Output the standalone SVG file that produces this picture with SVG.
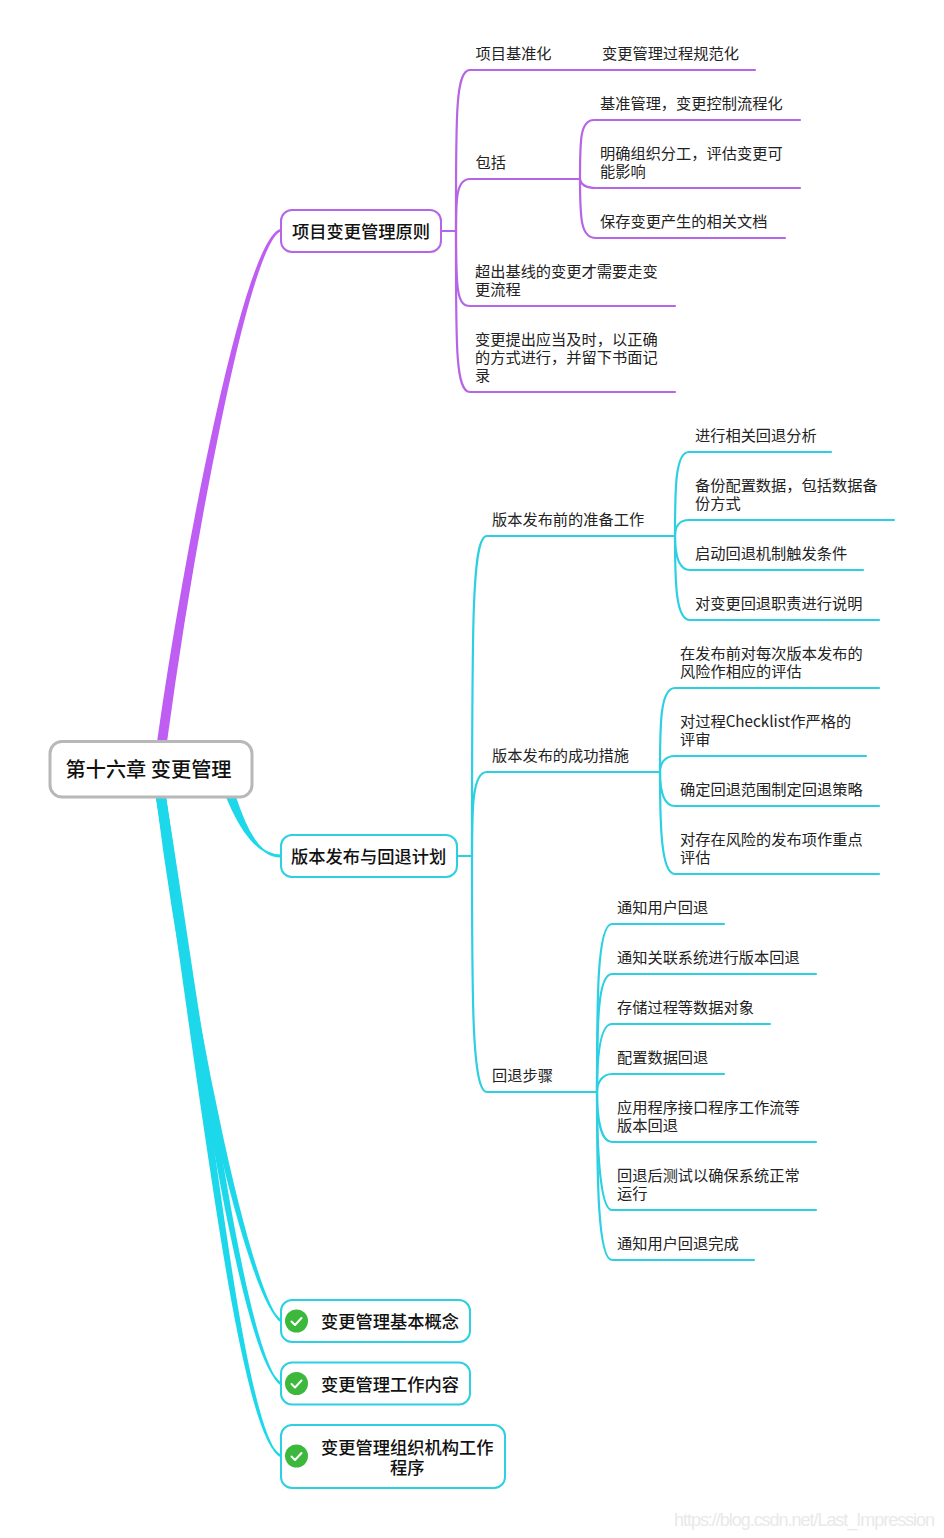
<svg xmlns="http://www.w3.org/2000/svg" width="944" height="1538" viewBox="0 0 944 1538">
<style>
text{font-family:"Noto Sans CJK SC","Liberation Sans",sans-serif;fill:#222}
.t{font-size:15.22px}
.n{font-size:17.25px;font-weight:500;fill:#111}
.r{font-size:20.2px;font-weight:500;fill:#111}
.p,.c{fill:none;stroke-width:2.2;stroke-linecap:round}
.p{stroke:#b565e6}
.c{stroke:#2dd0e2}
.tp{fill:#bf5ef2;stroke:#bf5ef2;stroke-width:1.6;stroke-linejoin:round}
.tc{fill:#1dd8ea;stroke:#1dd8ea;stroke-width:2;stroke-linejoin:round}
.box{fill:#fff;stroke-width:2}
.ok{fill:#3cb83c}
.tick{fill:none;stroke:#fff;stroke-width:2;stroke-linecap:round;stroke-linejoin:round}
</style>
<rect width="944" height="1538" fill="#fff"/>
<g id="connectors">
<path class="tp" d="M157.800,742 C183.200,560 244.500,239.500 281,229.500 L281,230.500 C247.500,240.500 190.800,560 166.200,742 Z"/>
<path class="tc" d="M227,797 C241,830 257,855 281,855.500 L281,856.500 C259,857 246,830 235,797 Z"/>
<path class="tc" d="M157,797 C186.500,1030 248.500,1300 281,1320.500 L281,1321.500 C251.500,1301 193.500,1030 165,797 Z"/>
<path class="tc" d="M157,797 C196.500,1040 241.500,1360 281,1383.500 L281,1384.500 C244.500,1361 203.500,1040 165,797 Z"/>
<path class="tc" d="M157,797 C196.500,1050 238.500,1440 281,1455.500 L281,1456.500 C241.500,1441 203.500,1050 165,797 Z"/>
<path class="p" d="M441,231 H456"/>
<path class="p" d="M456,231 C456,120 455,70 470,70 H755"/>
<path class="p" d="M456,231 C456,200 456,179 470,179 H580"/>
<path class="p" d="M456,231 C456,290 457,306 470,306 H675"/>
<path class="p" d="M456,231 C456,340 455,392 470,392 H675"/>
<path class="p" d="M580,179 C580,140 580,120 594,120 H800"/>
<path class="p" d="M580,179 C581,185 586,188 596,188 H800"/>
<path class="p" d="M580,179 C580,220 581,238 596,238 H785"/>
<path class="c" d="M457,856 H472"/>
<path class="c" d="M472,856 C472,620 472,536 487,536 H675"/>
<path class="c" d="M472,856 C472,810 472,772 487,772 H660"/>
<path class="c" d="M472,856 C472,1000 472,1092 487,1092 H597"/>
<path class="c" d="M675,536 C675,490 675,452 689,452 H831"/>
<path class="c" d="M675,536 C675,527 679,520 689,520 H894"/>
<path class="c" d="M675,536 C675,553 678,570 690,570 H863"/>
<path class="c" d="M675,536 C675,585 676,620 690,620 H879"/>
<path class="c" d="M660,772 C660,725 660,688 675,688 H879"/>
<path class="c" d="M660,772 C660,763 665,756 675,756 H866"/>
<path class="c" d="M660,772 C660,790 663,806 675,806 H879"/>
<path class="c" d="M660,772 C660,825 661,874 675,874 H879"/>
<path class="c" d="M597,1092 C597,1000 597,924 612,924 H724"/>
<path class="c" d="M597,1092 C597,1020 598,974 612,974 H816"/>
<path class="c" d="M597,1092 C597,1055 600,1024 612,1024 H770"/>
<path class="c" d="M597,1092 C597,1083 602,1074 612,1074 H724"/>
<path class="c" d="M597,1092 C597,1115 600,1142 612,1142 H816"/>
<path class="c" d="M597,1092 C597,1150 600,1210 612,1210 H816"/>
<path class="c" d="M597,1092 C597,1180 598,1260 612,1260 H754"/>
</g>
<g id="root">
<rect x="50" y="741.500" width="202" height="55.500" rx="12" fill="#fff" stroke="#b8b8b8" stroke-width="3"/>
<text class="r" x="65.500" y="777">第十六章 变更管理</text>
</g>
<g id="n-principle">
<rect class="box" x="281" y="210" width="160" height="42" rx="11" stroke="#b565e6"/>
<text class="n" x="292" y="238">项目变更管理原则</text>
</g>
<g id="n-plan">
<rect class="box" x="281" y="835" width="176" height="42" rx="11" stroke="#2dd0e2"/>
<text class="n" x="291" y="863">版本发布与回退计划</text>
</g>
<g id="n-concept">
<rect class="box" x="281" y="1300" width="189" height="42" rx="11" stroke="#2dd0e2"/>
<circle class="ok" cx="296.500" cy="1321" r="11.500"/>
<path class="tick" d="M291.500,1321.500 L295,1325 L301.500,1318"/>
<text class="n" x="321" y="1328">变更管理基本概念</text>
</g>
<g id="n-work">
<rect class="box" x="281" y="1362.500" width="189" height="42" rx="11" stroke="#2dd0e2"/>
<circle class="ok" cx="296.500" cy="1383.500" r="11.500"/>
<path class="tick" d="M291.500,1384 L295,1387.500 L301.500,1380.500"/>
<text class="n" x="321" y="1390.500">变更管理工作内容</text>
</g>
<g id="n-org">
<rect class="box" x="281" y="1425" width="224" height="63" rx="11" stroke="#2dd0e2"/>
<circle class="ok" cx="296.500" cy="1456" r="11.500"/>
<path class="tick" d="M291.500,1456.500 L295,1460 L301.500,1453"/>
<text class="n" y="1453.500"><tspan x="321">变更管理组织机构工作</tspan><tspan x="390" dy="20">程序</tspan></text>
</g>
<g id="labels-principle" transform="translate(0,-0.500)">
<text class="t" x="475.500" y="59">项目基准化</text>
<text class="t" x="602" y="59">变更管理过程规范化</text>
<text class="t" x="475.500" y="168">包括</text>
<text class="t" x="600" y="109">基准管理，变更控制流程化</text>
<text class="t" y="159"><tspan x="600">明确组织分工，评估变更可</tspan><tspan x="600" dy="18">能影响</tspan></text>
<text class="t" x="600" y="227">保存变更产生的相关文档</text>
<text class="t" y="277"><tspan x="475">超出基线的变更才需要走变</tspan><tspan x="475" dy="18">更流程</tspan></text>
<text class="t" y="345"><tspan x="475">变更提出应当及时，以正确</tspan><tspan x="475" dy="18">的方式进行，并留下书面记</tspan><tspan x="475" dy="18">录</tspan></text>
</g>
<g id="labels-prepare" transform="translate(0,-0.500)">
<text class="t" x="492" y="525">版本发布前的准备工作</text>
<text class="t" x="695" y="441">进行相关回退分析</text>
<text class="t" y="491"><tspan x="695">备份配置数据，包括数据备</tspan><tspan x="695" dy="18">份方式</tspan></text>
<text class="t" x="695" y="559">启动回退机制触发条件</text>
<text class="t" x="695" y="609">对变更回退职责进行说明</text>
</g>
<g id="labels-success" transform="translate(0,-0.500)">
<text class="t" x="492" y="761">版本发布的成功措施</text>
<text class="t" y="659"><tspan x="680">在发布前对每次版本发布的</tspan><tspan x="680" dy="18">风险作相应的评估</tspan></text>
<text class="t" y="727"><tspan x="680">对过程Checklist作严格的</tspan><tspan x="680" dy="18">评审</tspan></text>
<text class="t" x="680" y="795">确定回退范围制定回退策略</text>
<text class="t" y="845"><tspan x="680">对存在风险的发布项作重点</tspan><tspan x="680" dy="18">评估</tspan></text>
</g>
<g id="labels-rollback" transform="translate(0,-0.500)">
<text class="t" x="492" y="1081">回退步骤</text>
<text class="t" x="617" y="913">通知用户回退</text>
<text class="t" x="617" y="963">通知关联系统进行版本回退</text>
<text class="t" x="617" y="1013">存储过程等数据对象</text>
<text class="t" x="617" y="1063">配置数据回退</text>
<text class="t" y="1113"><tspan x="617">应用程序接口程序工作流等</tspan><tspan x="617" dy="18">版本回退</tspan></text>
<text class="t" y="1181"><tspan x="617">回退后测试以确保系统正常</tspan><tspan x="617" dy="18">运行</tspan></text>
<text class="t" x="617" y="1249">通知用户回退完成</text>
</g>
<text x="674" y="1526" font-size="18" style="font-family:'Liberation Sans',sans-serif;fill:#e9e9e9" textLength="261">https://blog.csdn.net/Last_Impression</text>
</svg>
